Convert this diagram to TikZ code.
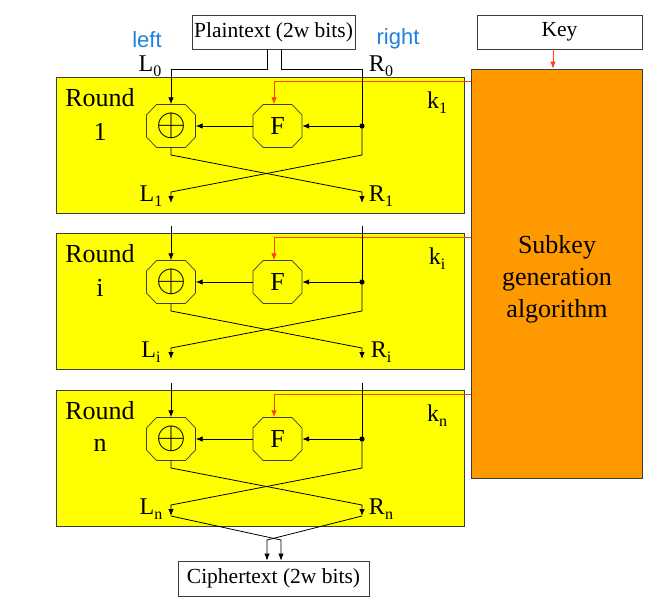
\documentclass[tikz,border=0pt]{standalone}
\usepackage{fontspec}
\setmainfont{Liberation Serif}
\newfontfamily\arialf{Liberation Sans}
\usetikzlibrary{arrows.meta}
\definecolor{ryel}{RGB}{255,255,0}
\definecolor{rora}{RGB}{255,153,0}
\definecolor{rred}{RGB}{255,64,16}
\definecolor{rblue}{RGB}{30,130,220}
\definecolor{rbord}{RGB}{60,60,60}
\newcommand{\lsub}[1]{\raisebox{-0.45ex}{\fontsize{16}{16}\selectfont #1}}
\newcommand{\octa}[2]{\draw[octd] ({#1-24.5},{#2-11}) -- ({#1-14.5},{#2-21.5}) -- ({#1+14.5},{#2-21.5}) -- ({#1+24.5},{#2-11}) -- ({#1+24.5},{#2+11}) -- ({#1+14.5},{#2+21.5}) -- ({#1-14.5},{#2+21.5}) -- ({#1-24.5},{#2+11}) -- cycle;}
\begin{document}
\begin{tikzpicture}[x=1pt,y=-1pt,
  arr/.style={-{Latex[length=7pt,width=5.5pt]}, line width=0.8pt},
  oarr/.style={-{Latex[length=7pt,width=5.5pt]}, line width=0.8pt, draw=rred},
  ln/.style={line width=0.8pt},
  roundbox/.style={draw=rbord, fill=ryel, line width=0.8pt, minimum width=408pt, minimum height=136pt, inner sep=0pt},
  tbox/.style={draw=rbord, fill=white, line width=0.8pt, inner sep=0pt, font=\fontsize{21.5}{24}\selectfont},
  lbl/.style={font=\fontsize{24}{26}\selectfont, inner sep=0pt},
  rlbl/.style={font=\fontsize{26}{28}\selectfont, inner sep=0pt},
  octn/.style={minimum width=49pt, minimum height=43pt, inner sep=0pt, font=\fontsize{26}{28}\selectfont},
  octd/.style={draw=rbord, fill=ryel, line width=0.7pt},
  blue/.style={font=\arialf\fontsize{22}{24}\selectfont, text=rblue, inner sep=0pt},
]
\useasboundingbox (0,0) rectangle (657,602);
% top boxes
\node[tbox, minimum width=163pt, minimum height=34pt] (pt) at (273.5,32) {Plaintext (2w bits)};
\node[tbox, minimum width=165pt, minimum height=34pt] (key) at (559.5,32) {Key};
\node[draw=rbord, fill=rora, line width=0.8pt, minimum width=171pt, minimum height=409pt, inner sep=0pt] (sub) at (556.5,273.5) {};
\node[align=center, font=\fontsize{26}{32}\selectfont, inner sep=0pt] (subt) at (557,279) {Subkey\\generation\\algorithm};
\node[tbox, minimum width=191pt, minimum height=35pt] (ct) at (273.5,578.5) {Ciphertext (2w bits)};
\coordinate (ks) at (553,49);
\draw[oarr] (ks) -- (ks |- sub.north);
% labels on top
\node[blue] (lft) at (147,40) {left};
\node[blue] (rgt) at (398,39) {right};
\node[lbl] (L0) at (150,66) {L\lsub{0}};
\node[lbl] (R0) at (381,66) {R\lsub{0}};
% rounds
\foreach \T/\n/\lab in {77/1/1, 233/2/i, 390/3/n}{
  \pgfmathsetmacro{\cy}{\T+49}
  \node[roundbox] (rb\n) at (260,\T+68) {};
  \octa{171}{\cy}
  \octa{277.5}{\cy}
  \node[octn] (x\n) at (171,\cy) {\scalebox{1.55}{$\oplus$}};
  \node[octn] (f\n) at (277.5,\cy) {F};
  \coordinate (d\n) at (362,\cy);
  \coordinate (xa\n) at (171,\T+78);
  \coordinate (xb\n) at (362,\T+115);
  \coordinate (ra\n) at (362,\T+78);
  \coordinate (rc\n) at (171,\T+115);
  \coordinate (lo\n) at (171,\T+126);
  \coordinate (ro\n) at (362,\T+126);
  \coordinate (k\n) at (471,\T+4.5);
  \draw[arr] (d\n) -- (f\n.east);
  \draw[arr] (f\n.west) -- (x\n.east);
  \draw[arr] (x\n.south) -- (xa\n) -- (xb\n) -- (ro\n);
  \draw[arr] (d\n) -- (ra\n) -- (rc\n) -- (lo\n);
  \fill (d\n) circle (2.6pt);
  \draw[oarr] (k\n) -| ([xshift=-3.5pt]f\n.north);
  \node[rlbl] (rl\n) at (100,\T+21) {Round};
  \node[rlbl] (rn\n) at (100,\T+55) {\lab};
  \node[lbl] (kl\n) at (437,\T+26) {k\lsub{\lab}};
  \node[lbl] (Ll\n) at (151,\T+119) {L\lsub{\lab}};
  \node[lbl] (Rl\n) at (381,\T+119) {R\lsub{\lab}};
}
% inputs
\coordinate (pl) at (267,69);
\coordinate (pr) at (281,69);
\draw[arr] (pl |- pt.south) -- (pl) -| (x1.north);
\draw[ln] (pr |- pt.south) -- (pr) -| (d1);
\foreach \n/\T in {2/233, 3/390}{
  \coordinate (li\n) at (171,\T-7);
  \coordinate (ri\n) at (362,\T-7);
  \draw[arr] (li\n) -- (x\n.north);
  \draw[ln] (ri\n) -- (d\n);
}
% output
\coordinate (ba) at (281,540);
\coordinate (bb) at (267,540);
\draw[arr] (lo3) -- (ba) -- (ba |- ct.north);
\draw[arr] (ro3) -- (bb) -- (bb |- ct.north);
\end{tikzpicture}
\end{document}
